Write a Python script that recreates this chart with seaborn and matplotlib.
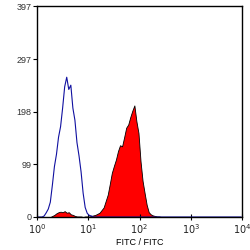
import numpy as np
import pandas as pd
import seaborn as sns
import matplotlib.pyplot as plt

# histogram channels: 100 bins over 4 decades (log10 FITC), counts
n_bins = 100
bin_centers = (np.arange(n_bins) + 0.5) * 4 / n_bins

# isotype control (blue outline)
blue_counts = [0, 0, 0, 2, 8, 15, 28, 60, 95, 118, 150, 170, 205, 245, 263, 240,
               248, 205, 182, 140, 115, 85, 45, 18, 7, 3, 2]
# stained sample (red filled)
red_counts = [0, 0, 0, 0, 0, 0, 0, 2, 4, 7, 9, 10, 9, 11, 8, 9, 5, 4, 2, 1, 1,
              1, 0, 1, 1, 1, 2, 3, 4, 6, 8, 13, 18, 30, 42, 62, 83, 96, 108, 124,
              135, 133, 150, 168, 174, 188, 200, 210, 180, 158, 105, 68, 45, 23,
              9, 5, 3, 2, 1, 1]

y_ticks = [0, 99, 198, 297, 397]
x_ticks = [0, 1, 2, 3, 4]

blue = np.zeros(n_bins)
blue[:len(blue_counts)] = blue_counts
red = np.zeros(n_bins)
red[:len(red_counts)] = red_counts
df = pd.DataFrame({"fitc": bin_centers, "blue": blue, "red": red})

plt.rcParams['font.family'] = ['Liberation Sans', 'DejaVu Sans']
fig = plt.figure(figsize=(2.5, 2.5), dpi=100)
ax = fig.add_axes([0.148, 0.132, 0.82, 0.844])

sns.histplot(data=df, x="fitc", weights="red", binwidth=4 / n_bins, binrange=(0, 4),
             element="poly", fill=True, color="#ff0000", alpha=1,
             edgecolor="black", linewidth=0.6, ax=ax)
sns.histplot(data=df, x="fitc", weights="blue", binwidth=4 / n_bins, binrange=(0, 4),
             element="poly", fill=False, color="#1010a0", linewidth=0.8, ax=ax)

ax.set_xlim(0, 4)
ax.set_ylim(0, 397)
ax.set_yticks(y_ticks)
ax.set_yticklabels([str(t) for t in y_ticks], fontsize=6.5, color="#333333")
ax.set_xticks(x_ticks)
ax.set_xticklabels([r"$10^{%d}$" % t for t in x_ticks], fontsize=7, color="#222222")
ax.tick_params(axis="y", direction="out", length=3, width=0.8, pad=1)
ax.tick_params(axis="x", direction="inout", length=4, width=0.8, pad=2)
ax.set_xlabel("FITC / FITC", fontsize=6.5, labelpad=1)
ax.set_ylabel("")
for s in ax.spines.values():
    s.set_linewidth(1)
    s.set_color("black")

fig.savefig("out.png", dpi=100)
